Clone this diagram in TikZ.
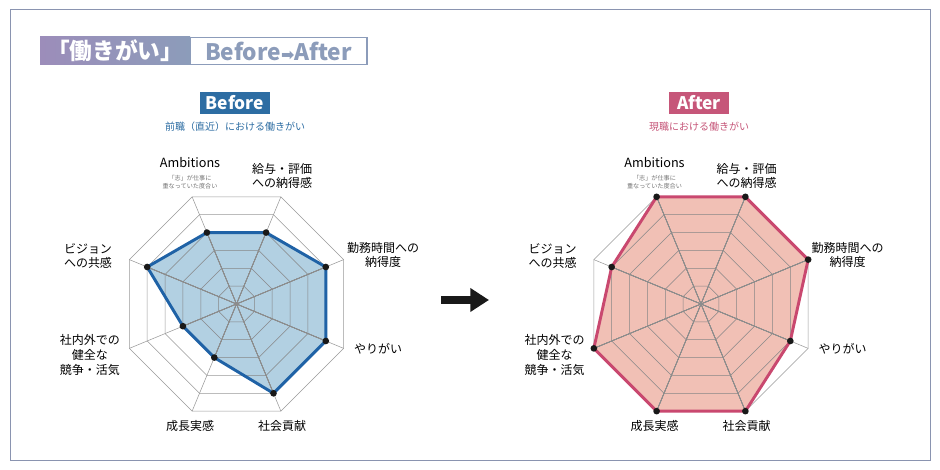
\documentclass[tikz,border=0pt]{standalone}
\usepackage{fontspec}
\setmainfont{Noto Sans CJK JP}
\newfontfamily\djv{DejaVu Sans}
\usetikzlibrary{arrows.meta,calc}
\definecolor{frameC}{HTML}{8A94B0}
\definecolor{ttlA}{HTML}{9C8DBA}
\definecolor{ttlB}{HTML}{8C9CBA}
\definecolor{befL}{HTML}{1F62A6}
\definecolor{befF}{HTML}{A5C8DE}
\definecolor{befH}{HTML}{2D6DA3}
\definecolor{aftL}{HTML}{C9486F}
\definecolor{aftF}{HTML}{EFB6A9}
\definecolor{aftH}{HTML}{C65679}
\tikzset{
  lab/.style={font=\fontsize{9}{11}\selectfont, align=center, text=black, inner sep=0pt},
  sub/.style={font=\fontsize{4.6}{5.6}\selectfont, align=center, text=black!55, inner sep=0pt},
  grid/.style={draw=black!40, line width=0.4pt},
  dot/.style={circle, fill=black!90, inner sep=0pt, minimum size=5pt},
}
\newcommand{\radar}[5]{% center x, y, values, fill, line
  \foreach \r in {1,...,6}{
    \draw[grid] ($(#1,#2)+(112.5:\r*116/6)$) \foreach \a in {67.5,22.5,-22.5,-67.5,-112.5,-157.5,157.5}{ -- ($(#1,#2)+(\a:\r*116/6)$)} -- cycle;
  }
  \foreach \a in {112.5,67.5,22.5,-22.5,-67.5,-112.5,-157.5,157.5}{
    \draw[grid] (#1,#2) -- ($(#1,#2)+(\a:116)$);
  }
  \foreach \v [count=\i] in {#3}{
    \pgfmathsetmacro\ang{112.5-45*(\i-1)}
    \coordinate (p\i) at ($(#1,#2)+(\ang:\v*116/6)$);
  }
  \fill[#4, opacity=0.85] (p1)--(p2)--(p3)--(p4)--(p5)--(p6)--(p7)--(p8)--cycle;
  \foreach \r in {1,...,6}{
    \begin{scope}
    \clip (p1)--(p2)--(p3)--(p4)--(p5)--(p6)--(p7)--(p8)--cycle;
    \draw[draw=black!45, line width=0.4pt] ($(#1,#2)+(112.5:\r*116/6)$) \foreach \a in {67.5,22.5,-22.5,-67.5,-112.5,-157.5,157.5}{ -- ($(#1,#2)+(\a:\r*116/6)$)} -- cycle;
    \foreach \a in {112.5,67.5,22.5,-22.5,-67.5,-112.5,-157.5,157.5}{
      \draw[draw=black!45, line width=0.4pt] (#1,#2) -- ($(#1,#2)+(\a:116)$);}
    \end{scope}
  }
  \draw[#5, line width=2.2pt, line join=round] (p1)--(p2)--(p3)--(p4)--(p5)--(p6)--(p7)--(p8)--cycle;
  \foreach \i in {1,...,8}{\node[dot] (d\i) at (p\i) {};}
}
\begin{document}
\begin{tikzpicture}[x=0.75pt,y=0.75pt]
\useasboundingbox (0,0) rectangle (940,470);
\fill[white] (0,0) rectangle (940,470);
\draw[frameC, line width=0.9pt] (10.5,9.5) rectangle (930.5,460.5);
% title
\shade[left color=ttlA, right color=ttlB] (40,405) rectangle (190,433);
\node[text=white, font=\fontsize{17}{17}\selectfont\bfseries, inner sep=0pt] (t1) at (115,419) {「働きがい」};
\draw[ttlB, line width=1pt] (190,405.5) rectangle (367,432.5);
\node[text=ttlB, font=\fontsize{17}{17}\selectfont\bfseries, inner sep=0pt] (t2) at (278.5,419) {Before{\djv\fontsize{12}{12}\selectfont ➡}After};
% headings
\node[fill=befH, text=white, font=\fontsize{13}{13}\selectfont\bfseries, minimum width=70*0.75pt, minimum height=22*0.75pt, inner sep=0pt] (hb) at (235,367) {Before};
\node[text=befH, font=\fontsize{7.5}{8}\selectfont, inner sep=0pt] (sb) at (235,343) {前職（直近）における働きがい};
\node[fill=aftH, text=white, font=\fontsize{13}{13}\selectfont\bfseries, minimum width=60*0.75pt, minimum height=22*0.75pt, inner sep=0pt] (ha) at (699,367) {After};
\node[text=aftH, font=\fontsize{7.5}{8}\selectfont, inner sep=0pt] (sa) at (699,343) {現職における働きがい};
% charts
\radar{236.5}{166}{4,4,5,5,5,3,3,5}{befF}{befL}
\radar{701}{166}{6,6,6,5,6,6,6,5}{aftF}{aftL}
% labels
\foreach \dx/\s in {0/L,464.5/R}{
  \node[lab, font=\fontsize{9.5}{11}\selectfont] (am\s) at (190+\dx,307) {Ambitions};
  \node[sub] (as\s) at (190+\dx,288) {「志」が仕事に\\重なっていた度合い};
  \node[lab] (kk\s) at (282+\dx,294) {給与・評価\\への納得感};
  \node[lab] (km\s) at (383+\dx,215) {勤務時間への\\納得度};
  \node[lab] (yr\s) at (378+\dx,121) {やりがい};
  \node[lab] (sk\s) at (282+\dx,44) {社会貢献};
  \node[lab] (se\s) at (190+\dx,44) {成長実感};
  \node[lab] (sn\s) at (90+\dx,115) {社内外での\\健全な\\競争・活気};
  \node[lab] (bj\s) at (88+\dx,214) {ビジョン\\への共感};
}
% arrow
\coordinate (a1) at (441,170);
\coordinate (a2) at (489,170);
\draw[line width=5.5pt, -{Triangle[length=14pt,width=17pt]}, black!90] (a1) -- (a2);
\end{tikzpicture}
\end{document}
